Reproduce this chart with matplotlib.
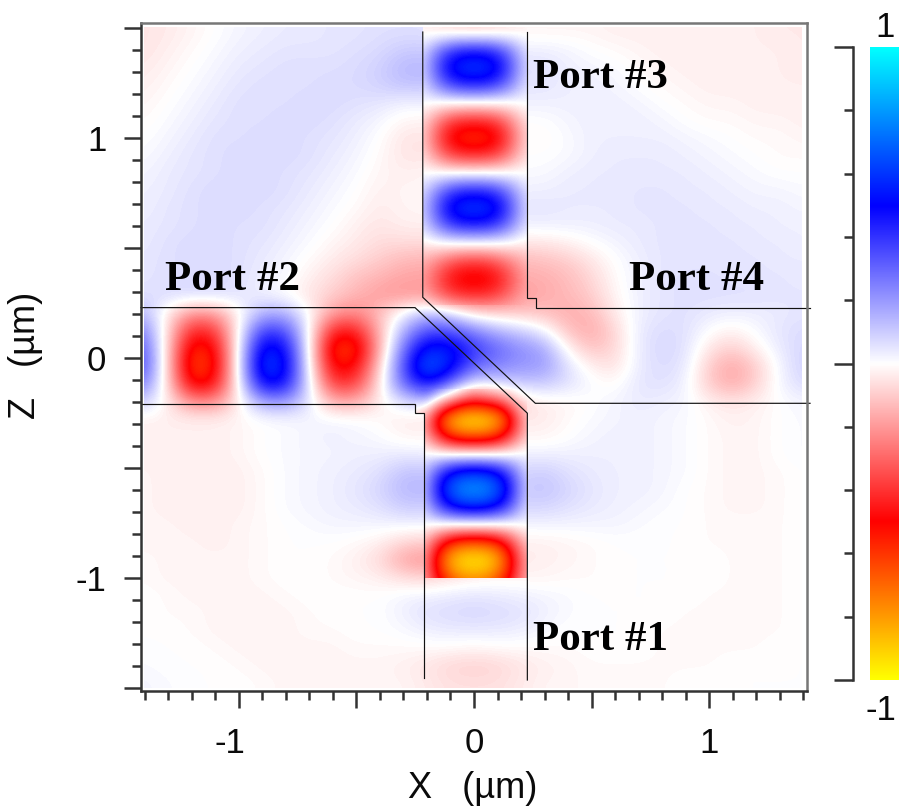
import numpy as np
import matplotlib
matplotlib.use('Agg')
import matplotlib.pyplot as plt
from matplotlib.colors import LinearSegmentedColormap
from matplotlib.patches import Polygon
from matplotlib.transforms import ScaledTranslation

W, H = 899, 808

# field outside the vertical guide, values in percent
x_vals = [-1.4, -1.3, -1.2, -1.1, -1.0, -0.9, -0.8, -0.7, -0.6, -0.5, -0.4, -0.3, -0.2, -0.1, 0.0,
          0.1, 0.2, 0.3, 0.4, 0.5, 0.6, 0.7, 0.8, 0.9, 1.0, 1.1, 1.2, 1.3, 1.4]
z_vals = [1.48, 1.40, 1.32, 1.24, 1.16, 1.08, 1.00, 0.92, 0.84, 0.76, 0.68, 0.60, 0.52, 0.44, 0.36,
          0.28, 0.20, 0.12, 0.04, -0.04, -0.12, -0.20, -0.28, -0.36, -0.44, -0.52, -0.60, -0.68,
          -0.76, -0.84, -0.92, -1.00, -1.08, -1.16, -1.24, -1.32, -1.40, -1.48]
field = [
    [-5, -4, -2, 0, 2, 3, 4, 4, 5, 5, 6, 6, 6, 2, -2, -2, -2, -2, -2, -2, -3, -3, -3, -3, -3, -3, -3, -4, -4],
    [-5, -3, -1, 1, 3, 4, 5, 5, 5, 6, 7, 10, 10, 8, 6, 4, 3, 3, 2, 0, -1, -2, -3, -3, -3, -3, -3, -3, -4],
    [-4, -2, 0, 2, 4, 5, 6, 6, 6, 7, 9, 14, 14, 12, 10, 8, 6, 6, 3, 2, 1, -1, -2, -3, -3, -3, -3, -3, -4],
    [-3, -1, 1, 3, 5, 6, 6, 6, 7, 7, 9, 12, 12, 10, 8, 6, 5, 5, 3, 3, 2, 0, -1, -2, -3, -3, -3, -3, -3],
    [-2, 0, 2, 4, 6, 6, 6, 7, 7, 6, 5, 3, 3, 3, 3, 3, 3, 3, 3, 3, 3, 2, 0, -1, -2, -2, -3, -3, -3],
    [-1, 1, 3, 5, 6, 6, 7, 7, 6, 4, 2, -2, -2, -2, -2, -1, 0, 0, 2, 3, 3, 3, 2, 0, -1, -1, -2, -2, -3],
    [0, 2, 4, 6, 6, 7, 7, 6, 5, 3, 0, -5, -5, -4, -3, -2, -1, -1, 1, 3, 3, 3, 3, 2, 1, 0, -1, -1, -2],
    [1, 3, 5, 6, 7, 7, 7, 6, 4, 2, -1, -5, -5, -4, -3, -1, 0, 0, 1, 3, 4, 4, 4, 3, 2, 1, 0, -1, -1],
    [2, 4, 5, 6, 7, 7, 6, 5, 3, 1, -2, -3, -2, -1, 0, 0, 1, 1, 3, 4, 4, 4, 4, 4, 3, 2, 1, 0, 0],
    [3, 4, 6, 7, 7, 7, 6, 4, 2, 0, -3, -2, -2, 0, 1, 2, 3, 3, 4, 4, 4, 5, 5, 4, 4, 3, 2, 2, 1],
    [3, 5, 6, 7, 7, 6, 5, 3, 1, -1, -4, -2, -2, 0, 1, 3, 5, 5, 4, 4, 4, 5, 5, 5, 4, 4, 3, 3, 2],
    [4, 5, 6, 7, 6, 6, 4, 2, 0, -3, -5, -3, -3, -2, 0, 1, 3, 3, 3, 3, 4, 4, 5, 5, 5, 4, 4, 3, 3],
    [4, 6, 7, 7, 6, 5, 3, 1, -2, -4, -7, -7, -7, -6, -5, -5, -5, -5, -3, 0, 2, 4, 5, 5, 5, 5, 4, 4, 3],
    [5, 6, 7, 7, 6, 4, 2, -1, -4, -7, -10, -14, -15, -16, -16, -15, -14, -12, -10, -5, 0, 3, 5, 5, 5, 5, 5, 4, 4],
    [5, 6, 7, 7, 6, 3, 1, -3, -7, -12, -15, -18, -18, -18, -18, -17, -16, -16, -13, -8, -1, 3, 5, 6, 6, 5, 5, 5, 4],
    [6, 7, 7, 7, 5, 3, 0, -5, -10, -15, -19, -20, -20, -34, -38, -34, -20, -16, -14, -10, -2, 3, 5, 6, 6, 6, 6, 5, 5],
    [14, -5, -22, -20, -2, 16, 16, 0, -20, -24, -12, 3, 14, 8, -5, -8, -10, -12, -16, -14, -4, 3, 5, 6, 4, 3, 3, 4, 5],
    [25, -8, -45, -40, 0, 40, 36, 0, -46, -46, -14, 16, 36, 35, 25, 15, 10, 3, -12, -17, -8, 4, 7, 6, 0, -3, 1, 5, 7],
    [33, -10, -60, -52, 2, 58, 50, 0, -62, -60, -15, 28, 58, 55, 40, 30, 22, 18, -2, -12, -8, 4, 8, 6, -5, -10, -3, 4, 8],
    [35, -10, -66, -55, 3, 65, 55, 1, -54, -50, -9, 35, 72, 55, 30, 24, 20, 20, 6, -3, -6, 4, 7, 5, -10, -18, -10, 2, 9],
    [25, -8, -55, -48, 1, 52, 48, 4, -40, -38, -4, 30, 50, 30, 3, 8, 10, 10, 6, 1, -1, 5, 6, 3, -10, -17, -9, 2, 7],
    [10, -4, -22, -22, -3, 18, 20, 5, -16, -16, -3, 6, 10, -25, -45, -35, -8, -3, -2, 0, 2, 4, 3, 2, -3, -5, -3, 0, 2],
    [-3, -3, -3, -3, -2, 0, 1, 2, 2, 1, -1, -4, -4, -3, -3, -3, -4, -4, -1, 1, 2, 3, 2, 1, -1, -3, -2, 0, 1],
    [-3, -3, -3, -3, -2, 0, 1, 2, 3, 2, 1, -2, -2, -2, -1, -1, -2, -2, 0, 2, 3, 3, 2, 1, -1, -2, -2, 0, 1],
    [-3, -3, -3, -3, -2, 0, 1, 2, 2, 3, 3, 4, 3, 3, 3, 3, 3, 3, 3, 3, 3, 3, 2, 1, -1, -2, -2, 0, 1],
    [-2, -3, -3, -3, -3, -1, 1, 2, 3, 4, 6, 12, 12, 10, 9, 8, 8, 10, 6, 4, 3, 3, 2, 1, -1, -2, -2, -1, 0],
    [-2, -3, -3, -3, -3, -1, 1, 2, 3, 5, 8, 14, 14, 12, 11, 10, 10, 12, 8, 5, 3, 3, 2, 0, -1, -2, -2, -1, 0],
    [-2, -3, -3, -3, -3, -1, 1, 2, 3, 4, 6, 10, 10, 9, 8, 7, 8, 8, 6, 4, 3, 2, 1, 0, -1, -2, -2, -1, 0],
    [-2, -2, -3, -3, -2, -1, 0, 1, 2, 2, 2, 2, 2, 1, 1, 1, 2, 2, 2, 2, 2, 1, 0, 0, -1, -1, -1, -1, 0],
    [-2, -2, -2, -3, -2, -1, 0, 0, 0, -1, -3, -8, -10, -8, -5, -3, -3, -3, -2, -1, 0, 0, 0, 0, -1, -1, -1, -1, 0],
    [-1, -2, -2, -2, -2, -1, 0, 0, -1, -3, -7, -18, -22, -15, -10, -5, -4, -3, -2, -1, 0, 0, 0, 0, 0, -1, -1, -1, 0],
    [-1, -2, -2, -2, -2, -1, 0, 0, -1, -2, -3, -6, -8, -5, -3, -2, -2, -2, -1, -1, 0, 0, 0, 0, 0, -1, -1, -1, 0],
    [0, -1, -2, -2, -2, -2, -1, 0, 0, 0, 0, 2, 3, 4, 5, 4, 3, 2, 1, 0, 0, 0, 0, 0, -1, -1, -1, -1, 0],
    [0, -1, -1, -2, -2, -2, -2, -1, 0, 0, 0, 3, 6, 7, 8, 7, 6, 3, 1, 0, 0, 0, 0, -1, -1, -1, -1, -1, 0],
    [0, 0, -1, -2, -2, -2, -2, -1, -1, 0, 0, 1, 3, 4, 4, 4, 3, 1, 0, 0, 0, 0, -1, -1, -1, -1, -1, -1, 0],
    [0, 0, 0, -1, -2, -2, -2, -2, -2, -1, -1, -1, -1, -1, -2, -1, -1, -1, -1, 0, 0, 0, -1, -1, -1, -1, -1, 0, 0],
    [1, 0, 0, 0, -1, -2, -2, -2, -2, -2, -2, -3, -5, -8, -9, -8, -5, -3, -2, -1, -1, -1, -1, -1, -1, 0, 0, 0, 0],
    [2, 1, 0, 0, 0, -1, -2, -2, -2, -2, -2, -2, -4, -6, -6, -6, -4, -2, -2, -1, -1, -1, -1, 0, 0, 0, 0, 0, 0],
]

# inside the vertical guide, finer in x
guide_x = [-0.25, -0.2, -0.15, -0.1, -0.05, 0.0, 0.05, 0.1, 0.15, 0.2, 0.25]
upper_z = [1.48, 1.40, 1.32, 1.24, 1.16, 1.08, 1.00, 0.92, 0.84, 0.76, 0.68, 0.60, 0.52, 0.44, 0.36, 0.28, 0.20]
upper_guide = [
    [-2, -4, -6, -8, -9, -10, -9, -8, -6, -4, -2],
    [4, 12, 26, 37, 43, 44, 43, 37, 26, 12, 4],
    [6, 17, 37, 53, 60, 62, 60, 53, 37, 17, 6],
    [4, 12, 26, 37, 43, 44, 43, 37, 26, 12, 4],
    [1, 1, 0, 0, 0, 0, 0, 0, 0, 1, 1],
    [-4, -12, -25, -36, -41, -42, -41, -36, -25, -12, -4],
    [-6, -17, -36, -51, -58, -60, -58, -51, -36, -17, -6],
    [-4, -12, -25, -36, -41, -42, -41, -36, -25, -12, -4],
    [0, 0, 0, 0, 0, 0, 0, 0, 0, 0, 0],
    [4, 12, 26, 37, 43, 44, 43, 37, 26, 12, 4],
    [6, 17, 37, 53, 60, 62, 60, 53, 37, 17, 6],
    [4, 12, 26, 37, 43, 44, 43, 37, 26, 12, 4],
    [-4, -3, -1, 0, 0, 0, 0, 0, -1, -3, -4],
    [-14, -18, -25, -32, -37, -38, -37, -32, -25, -18, -12],
    [-18, -24, -36, -47, -53, -55, -53, -47, -36, -24, -16],
    [-16, -20, -28, -35, -39, -40, -39, -35, -28, -20, -16],
    [12, 11, 8, 3, -1, -5, -8, -9, -10, -11, -12],
]
lower_z = [-0.12, -0.20, -0.28, -0.36, -0.44, -0.52, -0.60, -0.68, -0.76, -0.84, -0.92, -1.00, -1.08]
lower_guide = [
    [40, 50, 40, 30, 15, 3, 5, 8, 9, 10, 10],
    [8, 10, -10, -25, -38, -45, -40, -35, -22, -8, -3],
    [-10, -27, -60, -85, -95, -97, -95, -85, -60, -27, -8],
    [-6, -19, -41, -58, -66, -68, -66, -58, -41, -19, -6],
    [2, 2, 1, 0, 0, 0, 0, 0, 1, 2, 2],
    [6, 17, 36, 51, 58, 60, 58, 51, 36, 17, 6],
    [8, 22, 48, 68, 78, 80, 78, 68, 48, 22, 8],
    [6, 16, 35, 49, 56, 58, 56, 49, 35, 16, 6],
    [1, 1, 0, 0, 0, 0, 0, 0, 0, 1, 1],
    [-8, -20, -41, -58, -66, -68, -66, -58, -41, -20, -8],
    [-14, -30, -60, -85, -95, -97, -95, -85, -60, -30, -14],
    [-14, -26, -50, -68, -78, -80, -78, -68, -50, -26, -14],
    [-10, -20, -36, -50, -58, -60, -58, -50, -36, -20, -10],
]

# waveguide outlines
edge_a_x = [-0.218, -0.218, 0.261, 1.43]
edge_a_z = [1.482, 0.276, -0.206, -0.206]
edge_b_x = [0.227, 0.227, 0.263, 0.263, 1.43]
edge_b_z = [1.482, 0.273, 0.273, 0.229, 0.229]
edge_c_x = [-1.417, -0.251, 0.227, 0.227]
edge_c_z = [0.229, 0.229, -0.251, -1.464]
edge_d_x = [-1.417, -0.25, -0.25, -0.211, -0.211]
edge_d_z = [-0.209, -0.209, -0.251, -0.251, -1.455]

port_names = ['Port #1', 'Port #2', 'Port #3', 'Port #4']
port_x = [0.25, -1.315, 0.25, 0.66]
port_z = [-1.327, 0.309, 1.227, 0.309]

plt.rcParams['font.family'] = ['Liberation Sans', 'DejaVu Sans']
dark = '#333333'
ink = '#0a0a0a'

cmap = LinearSegmentedColormap.from_list(
    'field', [(0.0, '#ffff00'), (0.25, '#ff0000'), (0.5, '#ffffff'), (0.75, '#0000ff'), (1.0, '#00ffff')])

fig = plt.figure(figsize=(W / 100, H / 100), dpi=100)
ax = fig.add_axes([141 / W, 1 - 691 / H, (807 - 141) / W, (691 - 23) / H])


def draw_map(values, xs, zs, clip):
    dx = (xs[1] - xs[0]) / 2
    dz = (zs[0] - zs[1]) / 2
    im = ax.imshow(np.array(values) / 100.0, cmap=cmap, vmin=-1, vmax=1, aspect='auto', interpolation='bicubic',
                   extent=[xs[0] - dx, xs[-1] + dx, zs[-1] - dz, zs[0] + dz], origin='upper')
    im.set_clip_path(Polygon(clip, transform=ax.transData))


draw_map(field, x_vals, z_vals, [(-1.405, -1.5), (1.395, -1.5), (1.395, 1.505), (-1.405, 1.505)])
draw_map(upper_guide, guide_x, upper_z, [(-0.218, 0.24), (0.227, 0.24), (0.227, 1.505), (-0.218, 1.505)])
draw_map(lower_guide, guide_x, lower_z, [(-0.211, -0.998), (0.227, -0.998), (0.227, -0.14), (-0.25, -0.14),
                                         (-0.25, -0.251), (-0.211, -0.251)])
ax.set_xlim(-1.417, 1.417)
ax.set_ylim(-1.514, 1.523)

for xs, zs in [(edge_a_x, edge_a_z), (edge_b_x, edge_b_z), (edge_c_x, edge_c_z), (edge_d_x, edge_d_z)]:
    ax.plot(xs, zs, color='#111111', lw=0.85, clip_on=False, solid_joinstyle='miter')

for name, px, pz in zip(port_names, port_x, port_z):
    ax.text(px, pz, name, family='Liberation Serif', weight='bold', fontsize=31, ha='left', va='baseline')

for side in ax.spines:
    ax.spines[side].set_linewidth(1.8)
    ax.spines[side].set_color(dark)
ax.spines['top'].set_color('#777777')
ax.spines['right'].set_color('#777777')

ax.set_xticks([-1, -0.5, 0, 0.5, 1])
ax.set_xticklabels(['-1', '', '0', '', '1'])
ax.set_yticks([-1.5, -1, -0.5, 0, 0.5, 1, 1.5])
ax.set_yticklabels(['', '-1', '', '0', '', '1', ''])
ax.set_xticks(np.arange(-1.4, 1.41, 0.1), minor=True)
ax.set_yticks(np.arange(-1.5, 1.51, 0.1), minor=True)
ax.tick_params(which='major', length=12, width=1.8, color=dark, labelsize=25, labelcolor=ink)
ax.tick_params(which='minor', length=6.5, width=1.8, color=dark)
ax.tick_params(axis='x', which='major', pad=14)
ax.tick_params(axis='y', which='major', pad=13)
first = ax.get_xticklabels()[0]
first.set_transform(first.get_transform() + ScaledTranslation(-0.09, 0, fig.dpi_scale_trans))

fig.text(473 / W, 1 - 798 / H, 'X   (\u00b5m)', fontsize=26, ha='center', va='baseline', color=ink)
fig.text(43 / W, 1 - 355 / H, 'Z   (\u00b5m)', fontsize=26, rotation=90, ha='right', va='center', color=ink)

# colour scale
cax = fig.add_axes([870 / W, 1 - 680 / H, 29 / W, 633 / H])
cax.imshow(np.linspace(1, -1, 256).reshape(-1, 1), cmap=cmap, vmin=-1, vmax=1, aspect='auto', extent=[0, 1, -1, 1])
cax.set_xticks([])
for side in ['top', 'right', 'bottom']:
    cax.spines[side].set_visible(False)
cax.spines['left'].set_position(('outward', 12.5))
cax.spines['left'].set_linewidth(1.8)
cax.spines['left'].set_color(dark)
cax.set_yticks([-1, 0, 1])
cax.set_yticklabels([])
cax.set_yticks(np.arange(-1, 1.01, 0.2), minor=True)
cax.tick_params(which='major', length=14, width=1.8, color=dark)
cax.tick_params(which='minor', length=6.5, width=1.8, color=dark)

fig.text(895 / W, 1 - 37 / H, '1', fontsize=25, ha='right', va='baseline', color=ink)
fig.text(896 / W, 1 - 720 / H, '-1', fontsize=25, ha='right', va='baseline', color=ink)

fig.savefig('out.png', dpi=100)
